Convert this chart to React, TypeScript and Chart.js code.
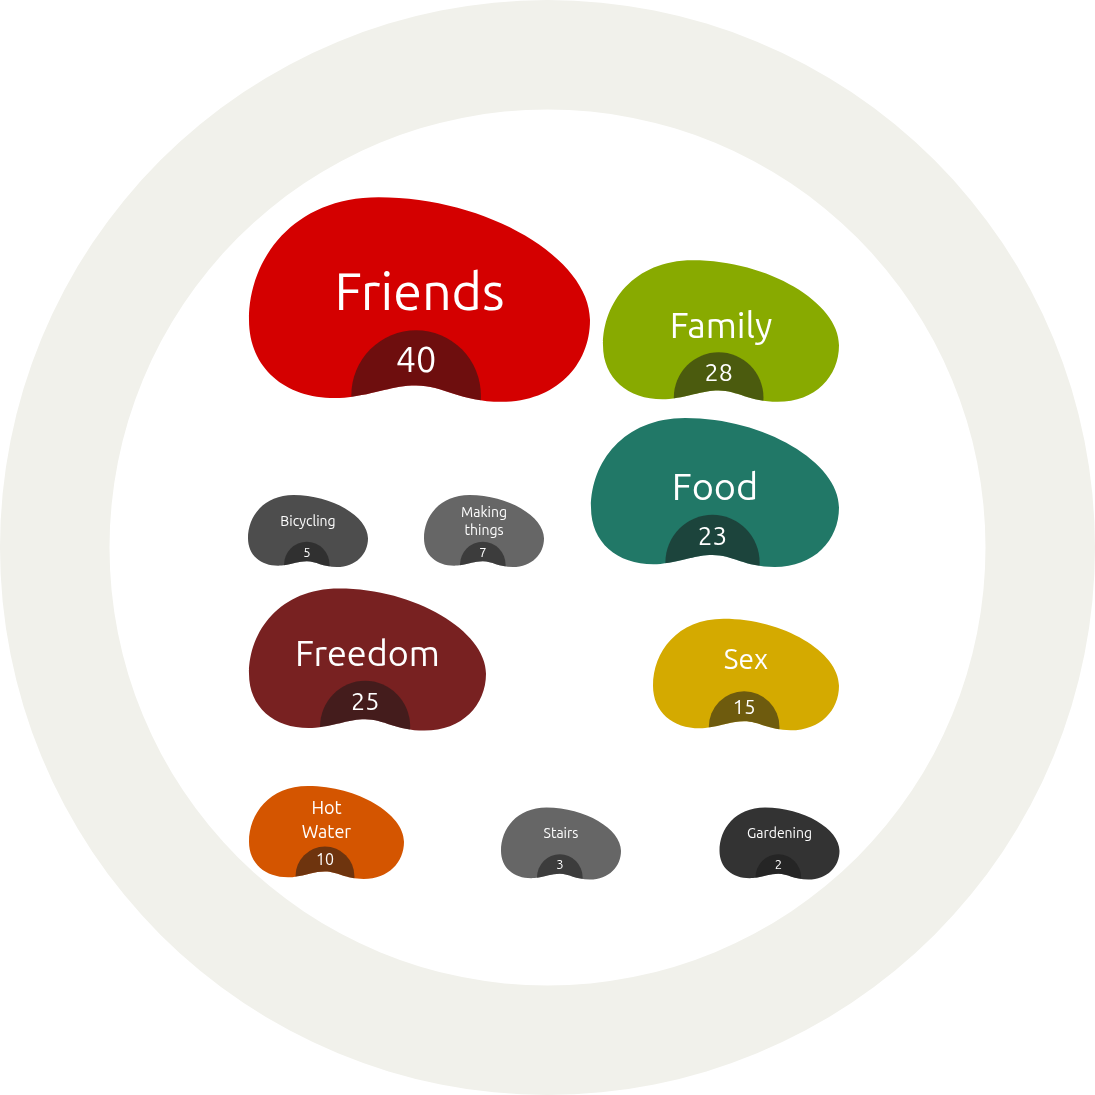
import React, { useEffect, useRef } from "react";
import { Chart, registerables } from "chart.js";

Chart.register(...registerables);

// ---- data ----
const categories = ["Friends", "Family", "Food", "Bicycling", "Making things", "Freedom", "Sex", "Hot Water", "Stairs", "Gardening"];
const values = [40, 28, 23, 5, 7, 25, 15, 10, 3, 2];
const posX = [419.5, 721, 715, 308, 484, 367.5, 746, 326.5, 561, 779.5];
const posY = [299.5, 331, 492.5, 531, 531, 659.5, 674.5, 832.5, 843.5, 843.5];
const beanWidth = [341, 236, 248, 120, 120, 237, 186, 155, 120, 120];
const beanColors = ["#d40000", "#88aa00", "#217867", "#4d4d4d", "#666666", "#782121", "#d4aa00", "#d45500", "#666666", "#333333"];

const SIZE = 1095;
const FONT = "Ubuntu, 'Noto Sans', 'Open Sans', sans-serif";

function beanPath(ctx: CanvasRenderingContext2D, cx: number, cy: number, W: number) {
  const H = W * 0.6;
  const l = cx - W / 2;
  const t = cy - H / 2;
  const P = (u: number, v: number): [number, number] => [l + u * W, t + v * H];
  ctx.beginPath();
  ctx.moveTo(...P(0.38, 0));
  ctx.bezierCurveTo(...P(0.13, 0), ...P(0, 0.3), ...P(0, 0.6));
  ctx.bezierCurveTo(...P(0, 0.85), ...P(0.12, 1.0), ...P(0.28, 0.98));
  ctx.bezierCurveTo(...P(0.38, 0.96), ...P(0.42, 0.92), ...P(0.49, 0.92));
  ctx.bezierCurveTo(...P(0.57, 0.92), ...P(0.62, 1.0), ...P(0.74, 1.0));
  ctx.bezierCurveTo(...P(0.9, 1.0), ...P(1.0, 0.82), ...P(1.0, 0.6));
  ctx.bezierCurveTo(...P(1.0, 0.3), ...P(0.7, 0), ...P(0.38, 0));
  ctx.closePath();
}

const beanPlugin = {
  id: "beans",
  afterDatasetsDraw(chart: any) {
    const ctx: CanvasRenderingContext2D = chart.ctx;
    const meta = chart.getDatasetMeta(0);
    meta.data.forEach((el: any, i: number) => {
      const { x, y } = el.getProps(["x", "y"], true);
      const W = el.options.radius * 2;
      const H = W * 0.6;
      const t = y - H / 2;
      const l = x - W / 2;
      ctx.save();
      beanPath(ctx, x, y, W);
      ctx.fillStyle = beanColors[i];
      ctx.fill();
      ctx.clip();
      ctx.beginPath();
      ctx.ellipse(l + 0.49 * W, t + 0.97 * H, 0.19 * W, 0.32 * H, 0, 0, Math.PI * 2);
      ctx.fillStyle = "rgba(26,26,26,0.55)";
      ctx.fill();
      ctx.restore();

      ctx.save();
      ctx.fillStyle = "#ffffff";
      ctx.textAlign = "center";
      ctx.textBaseline = "middle";
      const bigFont = W >= 180;
      const highLabel = W >= 200;
      const lf = Math.round(W * (bigFont ? 0.152 : 0.115));
      ctx.font = `${lf}px ${FONT}`;
      const lines = categories[i].split(" ");
      const ly = t + (highLabel ? 0.465 : 0.365) * H;
      const lh = lf * 1.3;
      lines.forEach((ln, k) => {
        ctx.fillText(ln, l + 0.5 * W, ly + (k - (lines.length - 1) / 2) * lh);
      });
      const nf = Math.round(W * 0.105);
      ctx.font = `${nf}px ${FONT}`;
      ctx.fillText(String(values[i]), l + 0.49 * W, t + 0.795 * H);
      ctx.restore();
    });
  },
};

export default function App() {
  const ringRef = useRef<HTMLCanvasElement>(null);
  const beanRef = useRef<HTMLCanvasElement>(null);

  useEffect(() => {
    const ring = new Chart(ringRef.current!, {
      type: "doughnut",
      data: {
        labels: ["ring"],
        datasets: [{ data: [1], backgroundColor: ["#f1f1eb"], borderWidth: 0 }],
      },
      options: {
        responsive: false,
        animation: false,
        cutout: "80%",
        layout: { padding: 0 },
        plugins: { legend: { display: false }, tooltip: { enabled: false } },
        events: [],
      },
    });

    const beans = new Chart(beanRef.current!, {
      type: "bubble",
      data: {
        datasets: [
          {
            label: "beans",
            data: categories.map((_, i) => ({ x: posX[i], y: posY[i], r: beanWidth[i] / 2 })),
            backgroundColor: "rgba(0,0,0,0)",
            borderWidth: 0,
          },
        ],
      },
      options: {
        responsive: false,
        animation: false,
        layout: { padding: 0, autoPadding: false },
        scales: {
          x: { type: "linear", min: 0, max: SIZE, display: false },
          y: { type: "linear", min: 0, max: SIZE, reverse: true, display: false },
        },
        plugins: { legend: { display: false }, tooltip: { enabled: false } },
        events: [],
      },
      plugins: [beanPlugin],
    });

    return () => {
      ring.destroy();
      beans.destroy();
    };
  }, []);

  return (
    <div style={{ position: "absolute", left: 0, top: 0, width: SIZE, height: SIZE, background: "#ffffff" }}>
      <canvas ref={ringRef} width={SIZE} height={SIZE} style={{ position: "absolute", left: 0, top: 0 }} />
      <canvas ref={beanRef} width={SIZE} height={SIZE} style={{ position: "absolute", left: 0, top: 0 }} />
    </div>
  );
}
